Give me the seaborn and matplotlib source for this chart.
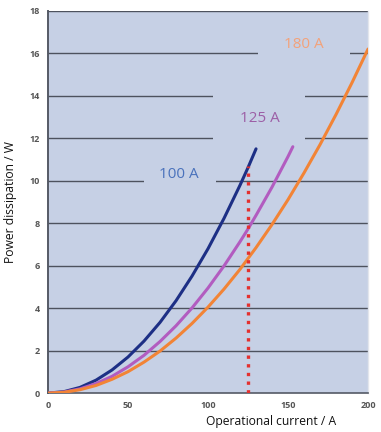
import matplotlib
matplotlib.use("Agg")
import matplotlib.pyplot as plt
from matplotlib.patches import Rectangle
import seaborn as sns
import pandas as pd

# Operational current (A) and power dissipation (W) for three rated fuses
current_100 = [0, 10, 20, 30, 40, 50, 60, 70, 80, 90, 100, 110, 120, 125, 130]
power_100 = [0, 0.07, 0.27, 0.61, 1.09, 1.70, 2.45, 3.33, 4.35, 5.51, 6.80, 8.23, 9.79, 10.62, 11.50]

current_125 = [0, 10, 20, 30, 40, 50, 60, 70, 80, 90, 100, 110, 120, 125, 130, 140, 150, 153]
power_125 = [0, 0.05, 0.20, 0.45, 0.79, 1.24, 1.78, 2.43, 3.17, 4.01, 4.95, 5.99, 7.13, 7.73, 8.37, 9.70, 11.14, 11.60]

current_180 = [0, 10, 20, 30, 40, 50, 60, 70, 80, 90, 100, 110, 120, 130, 140, 150, 160, 170, 180, 190, 200]
power_180 = [0, 0.04, 0.16, 0.36, 0.65, 1.01, 1.46, 1.98, 2.59, 3.28, 4.05, 4.90, 5.83, 6.85, 7.94, 9.11, 10.37, 11.70, 13.12, 14.62, 16.20]

series_names = ["100 A", "125 A", "180 A"]
line_colors = ["#1d2f85", "#b25cc0", "#f28436"]
label_colors = ["#4a72bc", "#9c5fa6", "#f3a27a"]
label_pos = [(82, 10.3), (132.5, 12.95), (160, 16.4)]

# label backdrops that interrupt the grid lines: (x0, x1, y0, y1)
label_boxes = [(60, 105, 9.6, 10.9), (103, 160.5, 11.5, 14.5), (131, 188.5, 15.5, 17.2)]

# operating point marker line
op_current = 125
op_power = 10.7

xticks = [0, 50, 100, 150, 200]
yticks = [0, 2, 4, 6, 8, 10, 12, 14, 16, 18]

frames = []
for name, xs, ys in zip(series_names, [current_100, current_125, current_180],
                        [power_100, power_125, power_180]):
    frames.append(pd.DataFrame({"current": xs, "power": ys, "fuse": name}))
df = pd.concat(frames, ignore_index=True)

bg = "#c6d0e5"
sns.set_theme(style="white")
plt.rcParams["font.family"] = ["Open Sans", "DejaVu Sans"]

fig = plt.figure(figsize=(3.81, 4.32), dpi=100)
ax = fig.add_axes([0.126, 0.090, 0.840, 0.885])
ax.set_facecolor(bg)

sns.lineplot(data=df, x="current", y="power", hue="fuse",
             palette=dict(zip(series_names, line_colors)),
             linewidth=2.2, ax=ax, legend=False, zorder=3, estimator=None, sort=True)

ax.plot([op_current, op_current], [0, op_power], color="#e4302e",
        linewidth=2.4, linestyle=(0, (1.0, 1.6)), zorder=4)

ax.set_xlim(0, 200)
ax.set_ylim(0, 18)
ax.set_xticks(xticks)
ax.set_yticks(yticks)
ax.set_xticklabels([str(t) for t in xticks], fontsize=6.5, color="#555555", fontweight="bold")
ax.set_yticklabels([str(t) for t in yticks], fontsize=6.5, color="#555555", fontweight="bold")
ax.tick_params(axis="x", length=2, width=0.8, color="#8a8f99", pad=4, direction="out")
ax.tick_params(axis="y", length=0, pad=6)

for y in yticks[1:]:
    ax.axhline(y, color="#4d525e", linewidth=1.0, zorder=1)

for (x0, x1, y0, y1) in label_boxes:
    ax.add_patch(Rectangle((x0, y0), x1 - x0, y1 - y0, facecolor=bg,
                           edgecolor="none", zorder=1.5))

ax.spines["top"].set_visible(False)
ax.spines["right"].set_color("#e2e5ec")
ax.spines["right"].set_linewidth(1.0)
ax.spines["left"].set_color("#555a66")
ax.spines["left"].set_linewidth(1.4)
ax.spines["bottom"].set_color("#555a66")
ax.spines["bottom"].set_linewidth(1.2)

for name, col, (lx, ly) in zip(series_names, label_colors, label_pos):
    ax.text(lx, ly, name, color=col, fontsize=11, ha="center", va="center", zorder=2)

ax.set_xlabel("Operational current / A", fontsize=8.7, color="#111111")
ax.set_ylabel("Power dissipation / W", fontsize=8.7, color="#111111")
ax.xaxis.set_label_coords(0.698, -0.058)
ax.yaxis.set_label_coords(-0.097, 0.50)

fig.savefig("out.png", dpi=100)
